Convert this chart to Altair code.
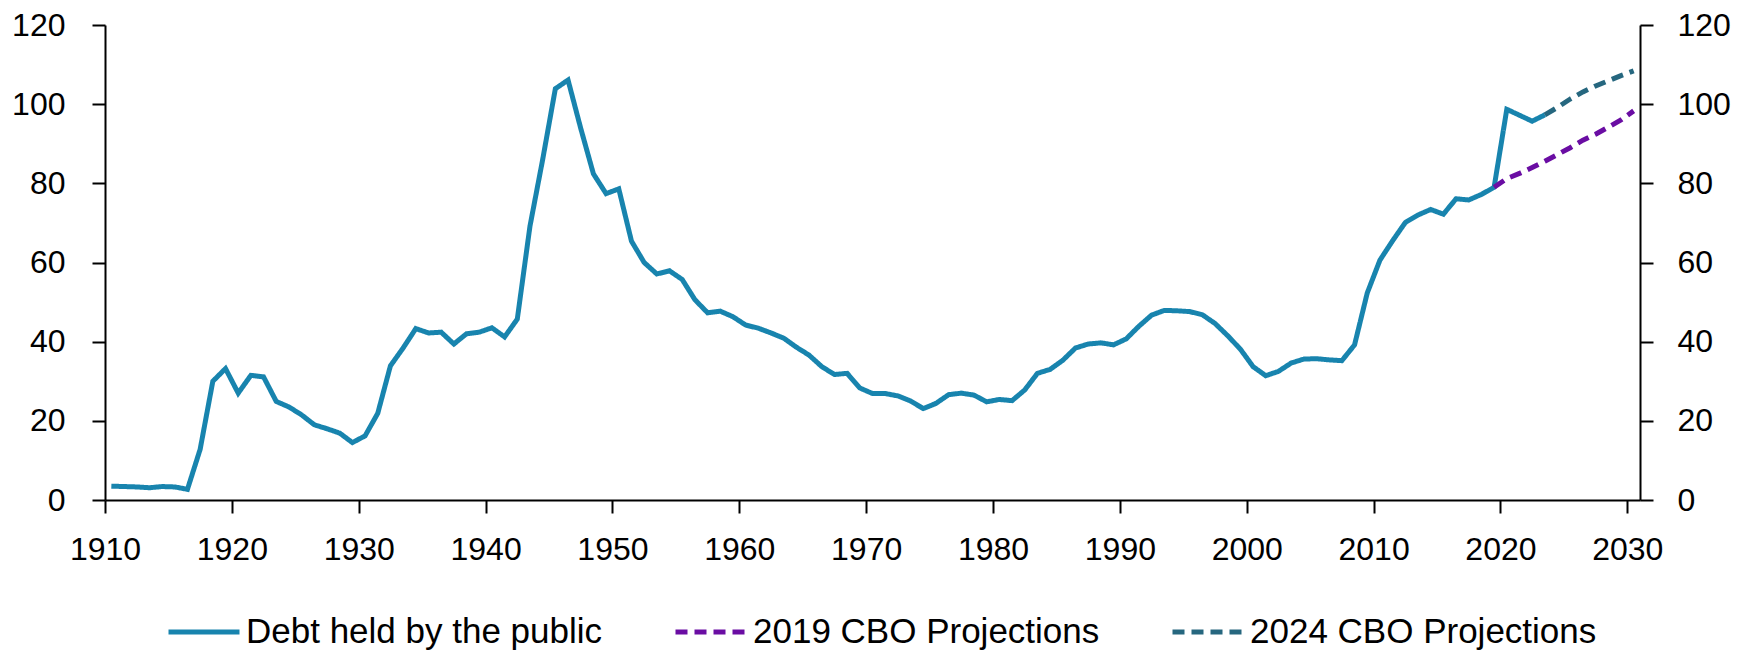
import altair as alt
import pandas as pd

# ---- data ----
hist_years = list(range(1910, 2024))
hist_values = [
    3.5, 3.4, 3.3, 3.1, 3.4, 3.3, 2.7, 12.8, 30.0, 33.2,      # 1910-1919
    27.0, 31.5, 31.1, 24.9, 23.5, 21.5, 19.0, 18.0, 16.9, 14.5,  # 1920-1929
    16.2, 21.9, 33.9, 38.4, 43.3, 42.2, 42.4, 39.4, 42.0, 42.4,  # 1930-1939
    43.5, 41.2, 45.7, 69.2, 86.0, 103.9, 106.1, 93.9, 82.4, 77.4,  # 1940-1949
    78.6, 65.4, 60.0, 57.1, 57.9, 55.7, 50.6, 47.3, 47.7, 46.3,  # 1950-1959
    44.2, 43.4, 42.2, 40.9, 38.6, 36.6, 33.7, 31.7, 32.0, 28.3,  # 1960-1969
    26.9, 26.9, 26.3, 25.0, 23.1, 24.4, 26.6, 27.0, 26.5, 24.8,  # 1970-1979
    25.4, 25.1, 27.8, 32.0, 33.0, 35.3, 38.4, 39.4, 39.7, 39.2,  # 1980-1989
    40.7, 43.9, 46.7, 47.9, 47.8, 47.6, 46.8, 44.6, 41.5, 38.1,  # 1990-1999
    33.7, 31.4, 32.5, 34.6, 35.6, 35.7, 35.4, 35.2, 39.2, 52.3,  # 2000-2009
    60.6, 65.5, 70.1, 72.0, 73.4, 72.2, 76.1, 75.8, 77.2, 79.0,  # 2010-2019
    98.7, 97.2, 95.7, 97.3,                                      # 2020-2023
]
cbo19_years = list(range(2019, 2031))
cbo19_values = [79.0, 81.2, 82.5, 84.0, 85.6, 87.3, 89.0, 90.9, 92.4, 94.2, 96.0, 98.3]
cbo24_years = list(range(2023, 2031))
cbo24_values = [97.3, 99.2, 101.3, 103.1, 104.6, 105.9, 107.2, 108.4]

series_names = ["Debt held by the public", "2019 CBO Projections", "2024 CBO Projections"]
series_colors = ["#1884AE", "#6A0DA3", "#26677F"]
series_dash = [[1, 0], [12, 7], [12, 7]]
x_ticks = list(range(1910, 2031, 10))
y_ticks = list(range(0, 121, 20))

rows = []
for name, yrs, vals in zip(series_names,
                           [hist_years, cbo19_years, cbo24_years],
                           [hist_values, cbo19_values, cbo24_values]):
    for yr, v in zip(yrs, vals):
        rows.append({"series": name, "year": yr, "value": v})
df = pd.DataFrame(rows)

FONT = "Liberation Sans"

x_scale = alt.Scale(domain=[1910, 2031], nice=False, zero=False)
y_scale = alt.Scale(domain=[0, 120], nice=False, zero=True)

common_axis = dict(
    grid=False, title=None, tickSize=13, tickWidth=2, domainWidth=2,
    domainColor="#000000", tickColor="#000000", labelColor="#000000",
    labelFont=FONT, labelFontSize=32, labelFlush=False, labelOverlap=False,
)

base = alt.Chart(df).transform_calculate(xpos="datum.year + 0.5")

x_enc = alt.X("xpos:Q", scale=x_scale,
              axis=alt.Axis(values=x_ticks, format="d", labelPadding=21, **common_axis))

lines = base.mark_line(strokeWidth=5, strokeCap="butt").encode(
    x=x_enc,
    y=alt.Y("value:Q", scale=y_scale,
            axis=alt.Axis(values=y_ticks, orient="left", labelPadding=27, **common_axis)),
    color=alt.Color("series:N",
                    scale=alt.Scale(domain=series_names, range=series_colors),
                    legend=alt.Legend(
                        title=None, orient="none", legendX=61, legendY=569,
                        direction="horizontal", columnPadding=62,
                        labelFont=FONT, labelFontSize=35, labelColor="#000000",
                        labelLimit=600, labelOffset=4,
                        symbolType="stroke", symbolSize=5041, symbolStrokeWidth=5,
                        padding=0,
                    )),
    strokeDash=alt.StrokeDash("series:N",
                              scale=alt.Scale(domain=series_names, range=series_dash),
                              legend=None),
)

right_axis = base.mark_line(opacity=0).encode(
    x=x_enc,
    y=alt.Y("value:Q", scale=y_scale,
            axis=alt.Axis(values=y_ticks, orient="right", labelPadding=24, **common_axis)),
    detail="series:N",
)

chart = alt.layer(lines, right_axis).resolve_scale(y="independent").properties(
    width=1535, height=475,
    autosize=alt.AutoSizeParams(type="none"),
    padding={"left": 97, "top": 17, "right": 105, "bottom": 150},
).configure_view(stroke=None)

chart.save("out.html", embed_options={"renderer": "svg", "actions": False})
